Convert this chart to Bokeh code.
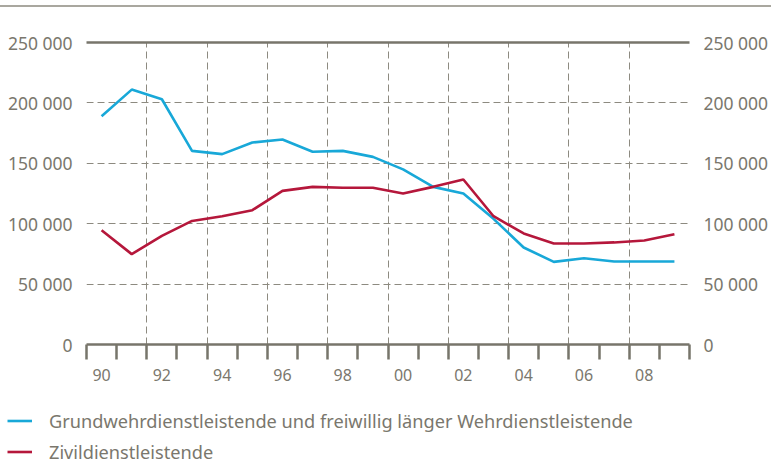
from bokeh.plotting import figure
from bokeh.models import (Range1d, FixedTicker, LinearAxis, Legend, LegendItem, Grid)
from bokeh.layouts import column
from bokeh.embed import file_html
from bokeh.resources import INLINE

# ---- data ----
years = list(range(1990, 2010))
wehrdienst = [189000, 211000, 203000, 160300, 157600, 167200, 169700, 159500, 160300, 155300,
              145000, 130500, 125000, 104000, 80300, 68400, 71400, 68700, 68700, 68700]
zivildienst = [94600, 74800, 89900, 102300, 106200, 111200, 127200, 130500, 129700, 129700,
               125000, 130500, 136600, 106200, 91900, 83600, 83600, 84500, 86100, 91300]
series_names = ["Grundwehrdienstleistende und freiwillig länger Wehrdienstleistende",
                "Zivildienstleistende"]
y_ticks = [0, 50000, 100000, 150000, 200000, 250000]
y_tick_labels = ["0", "50 000", "100 000", "150 000", "200 000", "250 000"]
x_label_years = [1990, 1992, 1994, 1996, 1998, 2000, 2002, 2004, 2006, 2008]
x_tick_labels = ["90", "92", "94", "96", "98", "00", "02", "04", "06", "08"]

# ---- style ----
BLUE = "#18a8d8"
RED = "#b5173b"
TEXT = "#7a776d"
AXIS = "#77756b"
GRID = "#8d8a80"
RULE = "#a9a79f"
FONT = "Noto Sans"

W, H = 771, 464
H_MAIN = 395

x_range = Range1d(years[0] - 0.5, years[-1] + 0.5)
y_range = Range1d(y_ticks[0], y_ticks[-1])

p = figure(width=W, height=H_MAIN, output_backend="svg", toolbar_location=None,
           x_range=x_range, y_range=y_range,
           x_axis_type=None, y_axis_type=None,
           min_border_left=86, min_border_right=79, min_border_top=42,
           min_border_bottom=H_MAIN - 344)
p.outline_line_color = None
p.background_fill_color = "white"
p.border_fill_color = None
# thin full-width rule at the very top of the page, drawn behind the transparent border area
p.styles = {"background": "linear-gradient(%s, %s) no-repeat 0 4.5px / 100%% 2px, white" % (RULE, RULE)}

boundaries = [years[0] - 0.5 + i for i in range(len(years) + 1)]
vgrid = [b for b in boundaries if (b - boundaries[0]) % 2 == 0][1:-1]

p.add_layout(Grid(dimension=0, ticker=FixedTicker(ticks=vgrid), grid_line_color=GRID,
                  grid_line_dash="7 4", grid_line_width=1))
p.add_layout(Grid(dimension=1, ticker=FixedTicker(ticks=y_ticks[1:-1]), grid_line_color=GRID,
                  grid_line_dash="7 4", grid_line_width=1))

# solid top rule of the plot area (at 250 000)
top_axis = LinearAxis(ticker=FixedTicker(ticks=[]), axis_line_color=AXIS, axis_line_width=2.6,
                      major_tick_line_color=None, minor_tick_line_color=None,
                      major_label_text_font_size="0px", major_tick_out=0, major_tick_in=0)
p.add_layout(top_axis, "above")

xaxis = LinearAxis(
    ticker=FixedTicker(ticks=x_label_years, minor_ticks=boundaries),
    major_label_overrides={y: l for y, l in zip(x_label_years, x_tick_labels)},
    major_tick_line_color=None, major_tick_in=0, major_tick_out=15,
    minor_tick_line_color=AXIS, minor_tick_line_width=2.5, minor_tick_in=0, minor_tick_out=15,
    axis_line_color=AXIS, axis_line_width=2.6, major_label_standoff=9,
    major_label_text_font=FONT, major_label_text_font_size="16px",
    major_label_text_color=TEXT)
p.add_layout(xaxis, "below")

for side in ("left", "right"):
    ax = LinearAxis(
        ticker=FixedTicker(ticks=y_ticks),
        major_label_overrides={v: l for v, l in zip(y_ticks, y_tick_labels)},
        axis_line_color=None, major_tick_line_color=None, minor_tick_line_color=None,
        major_tick_in=0, major_tick_out=0, major_label_standoff=14,
        major_label_text_font=FONT, major_label_text_font_size="17.5px",
        major_label_text_color=TEXT)
    p.add_layout(ax, side)

p.line(years, wehrdienst, line_color=BLUE, line_width=2.6)
p.line(years, zivildienst, line_color=RED, line_width=2.6)

# ---- legend strip (own figure so the legend is not clipped by the plot frame) ----
pl = figure(width=W, height=H - H_MAIN, output_backend="svg", toolbar_location=None,
            x_range=Range1d(years[0] - 0.5, years[-1] + 0.5),
            y_range=Range1d(y_ticks[0], y_ticks[-1]),
            x_axis_type=None, y_axis_type=None,
            min_border_left=0, min_border_right=0, min_border_top=0, min_border_bottom=0)
pl.outline_line_color = None
pl.background_fill_color = None
pl.border_fill_color = None
pl.grid.visible = False
# do not align the legend strip's frame with the chart's frame
for fig in (p, pl):
    if "frame_align" in fig.properties():
        fig.frame_align = False
l1 = pl.line(years, wehrdienst, line_color=BLUE, line_width=2.6, visible=False)
l2 = pl.line(years, zivildienst, line_color=RED, line_width=2.6, visible=False)

legend = Legend(items=[LegendItem(label=series_names[0], renderers=[l1]),
                       LegendItem(label=series_names[1], renderers=[l2])],
                location=(7, 0), orientation="vertical",
                glyph_width=25, glyph_height=25, label_height=25, spacing=6,
                padding=0, margin=0, label_standoff=17,
                border_line_color=None, background_fill_alpha=0,
                label_text_font=FONT, label_text_font_size="18.2px",
                label_text_color=TEXT)
pl.add_layout(legend)

layout = column(p, pl, spacing=0)
open("out.html", "w").write(file_html(layout, INLINE))
